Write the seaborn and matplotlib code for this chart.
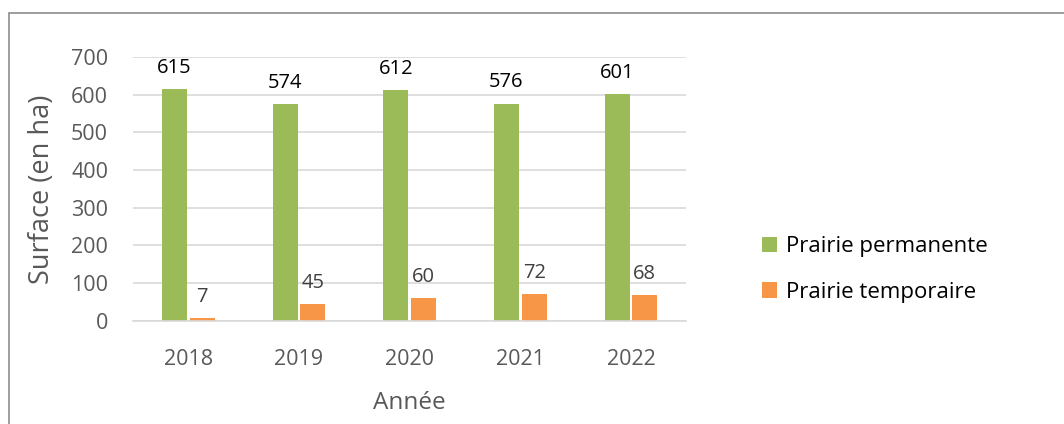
import matplotlib
matplotlib.use("Agg")
import matplotlib.pyplot as plt
import seaborn as sns
import pandas as pd
from matplotlib.patches import Rectangle

# data
years = ["2018", "2019", "2020", "2021", "2022"]
permanente = [615, 574, 612, 576, 601]
temporaire = [7, 45, 60, 72, 68]
series = ["Prairie permanente", "Prairie temporaire"]
colors = ["#9BBB59", "#F79646"]

df = pd.DataFrame({
    "Année": years * 2,
    "Surface": permanente + temporaire,
    "Type": [series[0]] * len(years) + [series[1]] * len(years),
})

sns.set_theme(style="white")
plt.rcParams["font.family"] = ["Open Sans", "DejaVu Sans"]

fig = plt.figure(figsize=(10.64, 4.24), dpi=100)
ax = fig.add_axes([0.125, 0.243, 0.52, 0.623])

sns.barplot(data=df, x="Année", y="Surface", hue="Type", hue_order=series,
            palette=colors, width=0.5, gap=0.1, saturation=1, linewidth=0,
            ax=ax)

# value labels
label_colors = ["#000000", "#404040"]
for cont, lc in zip(ax.containers, label_colors):
    ax.bar_label(cont, padding=8, fontsize=14.5, color=lc)

ax.set_ylim(0, 700)
ax.set_yticks(range(0, 701, 100))
ax.yaxis.grid(True, color="#D9D9D9", linewidth=1.2)
ax.set_axisbelow(True)
for s in ["top", "right", "left"]:
    ax.spines[s].set_visible(False)
ax.spines["bottom"].set_color("#D9D9D9")
ax.spines["bottom"].set_linewidth(1.2)
ax.tick_params(axis="y", colors="#595959", labelsize=15.5, length=0, pad=18)
ax.tick_params(axis="x", colors="#595959", labelsize=15.5, length=0, pad=20)
ax.set_xlabel("Année", fontsize=17.5, color="#595959", labelpad=15)
ax.set_ylabel("Surface (en ha)", fontsize=19.5, color="#595959", labelpad=11)

ax.legend(loc="center left", bbox_to_anchor=(1.1, 0.195), frameon=False,
          fontsize=16, handlelength=0.7, handleheight=0.7, handletextpad=0.4,
          labelspacing=1.1, labelcolor="#000000")

# outer chart frame (clipped by the image on the right and bottom)
fig.add_artist(Rectangle((8.5 / 1064, -0.1), 1.2, 1 - 13.5 / 424 + 0.1,
                         transform=fig.transFigure, fill=False,
                         edgecolor="#8C8C8C", linewidth=1.2))

fig.savefig("out.png", dpi=100)
